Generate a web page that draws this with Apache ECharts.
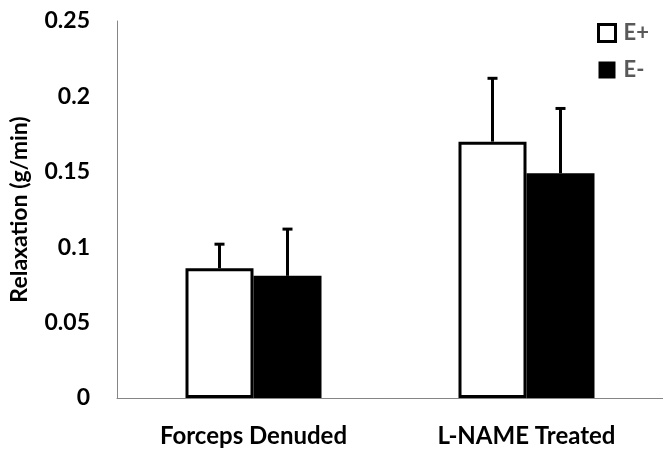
<!DOCTYPE html>
<html><head><meta charset="utf-8">
<script src="https://cdn.jsdelivr.net/npm/echarts@6/dist/echarts.min.js"></script>
<style>html,body{margin:0;padding:0;background:#fff}#c{width:663px;height:451px}</style>
</head><body><div id="c"></div>
<script>
var categories = ['Forceps Denuded', 'L-NAME Treated'];
var ePlus = [0.086, 0.170];
var ePlusErr = [0.102, 0.212];
var eMinus = [0.081, 0.149];
var eMinusErr = [0.112, 0.192];
var yTicks = [0, 0.05, 0.1, 0.15, 0.2, 0.25];

var BW = 68;
var font = 'Lato';
function errSeries(name, vals, tops, off) {
  return {
    type: 'custom', name: name + ' err', silent: true, z: 1,
    data: vals.map(function (v, i) { return [i, v, tops[i]]; }),
    renderItem: function (params, api) {
      var p0 = api.coord([api.value(0), api.value(1)]);
      var p1 = api.coord([api.value(0), api.value(2)]);
      var x = p0[0] + off;
      var st = { stroke: '#000', lineWidth: 3 };
      return { type: 'group', children: [
        { type: 'line', shape: { x1: x, y1: p0[1], x2: x, y2: p1[1] }, style: st },
        { type: 'line', shape: { x1: x - 5, y1: p1[1], x2: x + 5, y2: p1[1] }, style: st }
      ]};
    }
  };
}
var chart = echarts.init(document.getElementById('c'));
chart.setOption({
  animation: false,
  grid: { left: 111, right: 0, top: 21, bottom: 53 },
  legend: {
    orient: 'vertical', left: 592, top: 17, itemGap: 15,
    itemWidth: 17, itemHeight: 17,
    textStyle: { color: '#595959', fontFamily: font, fontWeight: 'bold', fontSize: 22, padding: [0, 0, 0, 3] },
    data: [
      { name: 'E+', icon: 'rect', itemStyle: { color: '#fff', borderColor: '#000', borderWidth: 3 } },
      { name: 'E-', icon: 'rect', itemStyle: { color: '#000', borderWidth: 0 } }
    ]
  },
  xAxis: {
    type: 'category', data: categories,
    axisLine: { lineStyle: { color: '#868686', width: 1 } },
    axisTick: { show: false },
    axisLabel: { color: '#000', fontFamily: font, fontWeight: 'bold', fontSize: 24, margin: 26 }
  },
  yAxis: {
    type: 'value', min: 0, max: 0.25, interval: 0.05,
    name: 'Relaxation (g/min)', nameLocation: 'middle', nameGap: 86,
    nameTextStyle: { color: '#000', fontFamily: font, fontWeight: 'bold', fontSize: 23 },
    axisLine: { show: true, lineStyle: { color: '#868686', width: 1 } },
    axisTick: { show: false }, splitLine: { show: false },
    axisLabel: { color: '#000', fontFamily: font, fontWeight: 'bold', fontSize: 23, margin: 27 }
  },
  series: [
    { type: 'bar', name: 'E+', data: ePlus, barWidth: BW, barGap: '0%', z: 2,
      itemStyle: { color: '#fff', borderColor: '#000', borderWidth: 3 } },
    { type: 'bar', name: 'E-', data: eMinus, barWidth: BW, barGap: '0%', z: 2,
      itemStyle: { color: '#000' } },
    errSeries('E+', ePlus, ePlusErr, -BW / 2),
    errSeries('E-', eMinus, eMinusErr, BW / 2)
  ]
});
</script></body></html>
